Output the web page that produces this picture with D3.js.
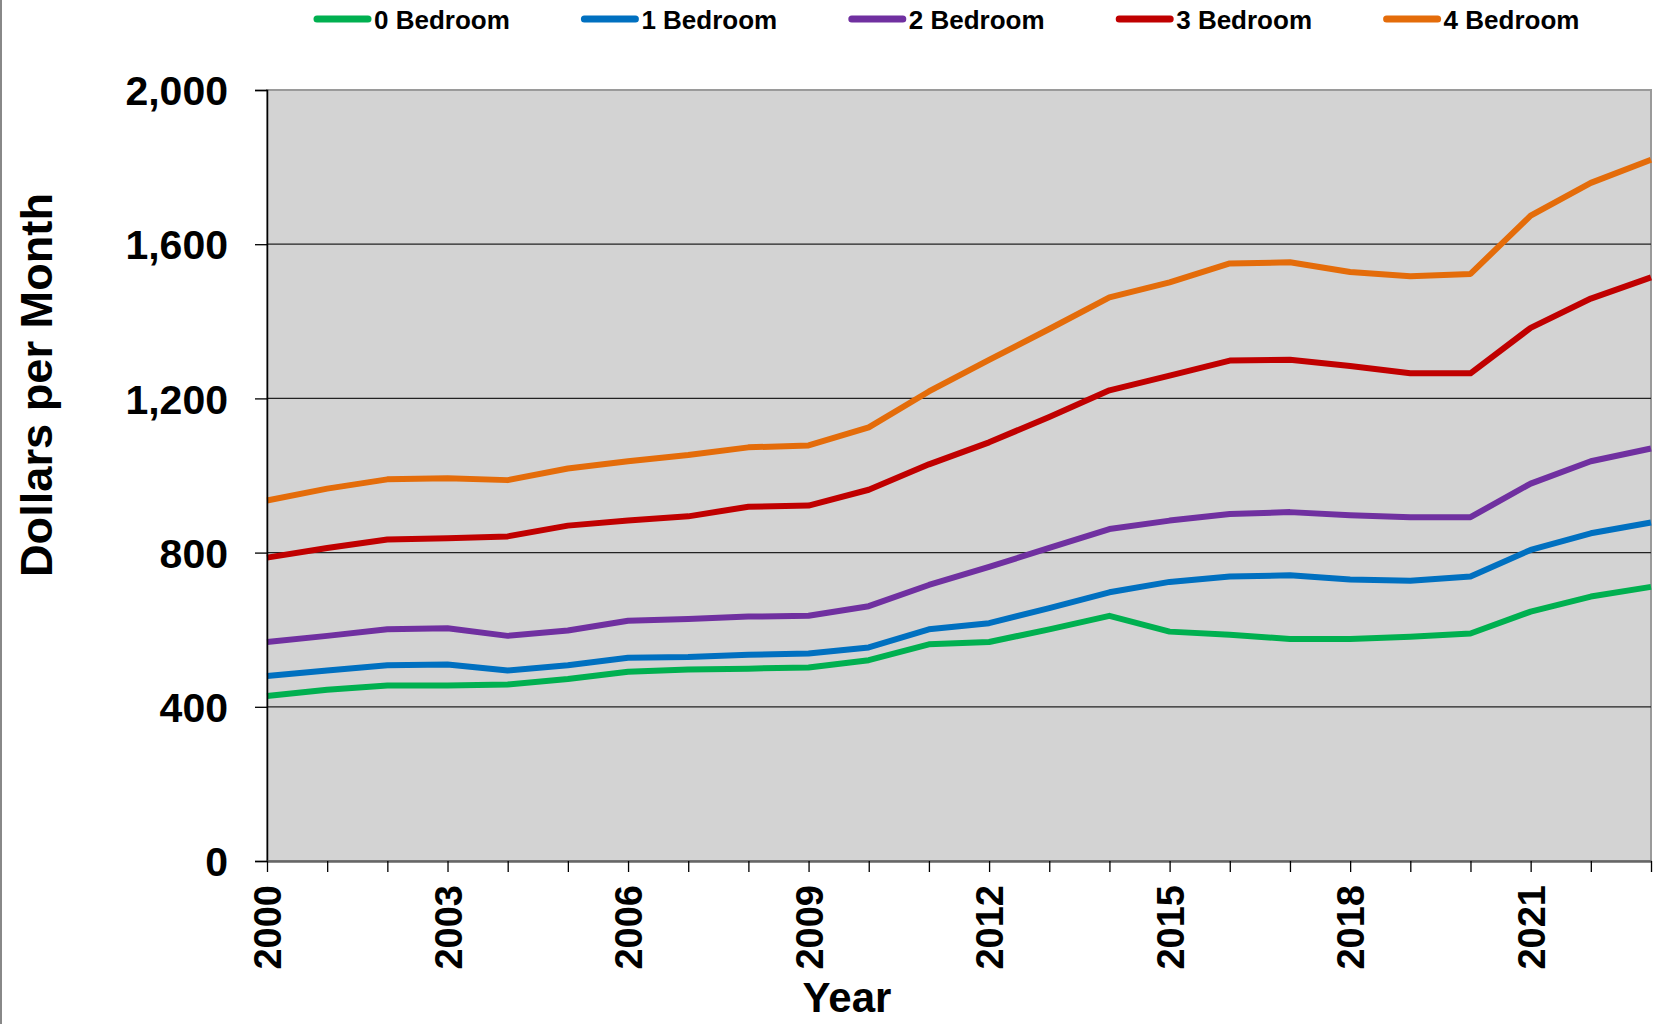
<!DOCTYPE html>
<html>
<head>
<meta charset="utf-8">
<script src="https://cdn.jsdelivr.net/npm/d3@7"></script>
<style>
  html, body { margin: 0; padding: 0; background: #fff; }
  svg { display: block; }
  text { font-family: "Liberation Sans", Arial, sans-serif; font-weight: bold; fill: #000; }
</style>
</head>
<body>
<svg id="chart" width="1657" height="1024"></svg>
<script>
// Fair market rent by unit size, dollars per month
const years = d3.range(2000, 2024);
const seriesNames = ["0 Bedroom", "1 Bedroom", "2 Bedroom", "3 Bedroom", "4 Bedroom"];
const seriesColors = ["#00b050", "#0070c0", "#7030a0", "#c00000", "#e46c0a"];

const bed0 = [428, 444, 455, 455, 458, 472, 491, 497, 499, 502, 521, 562, 568, 601, 636, 595, 587, 576, 576, 582, 590, 647, 686, 711];
const bed1 = [480, 494, 508, 510, 494, 508, 527, 529, 535, 538, 554, 601, 617, 656, 697, 724, 738, 741, 730, 727, 738, 807, 850, 878];
const bed2 = [568, 584, 601, 604, 584, 598, 623, 628, 634, 636, 661, 716, 763, 812, 861, 883, 900, 905, 897, 892, 892, 979, 1037, 1070];
const bed3 = [787, 812, 834, 837, 842, 870, 883, 894, 919, 922, 963, 1029, 1086, 1152, 1221, 1259, 1298, 1300, 1284, 1265, 1265, 1383, 1459, 1514];
const bed4 = [935, 966, 990, 993, 988, 1018, 1037, 1053, 1073, 1078, 1125, 1218, 1300, 1380, 1462, 1501, 1550, 1553, 1528, 1517, 1523, 1674, 1759, 1819];

const seriesValues = [bed0, bed1, bed2, bed3, bed4];
const yTicks = [0, 400, 800, 1200, 1600, 2000];
const xLabelYears = [2000, 2003, 2006, 2009, 2012, 2015, 2018, 2021];

const svg = d3.select("#chart");

// page frame line on the left edge
svg.append("line").attr("x1", 1).attr("x2", 1).attr("y1", 0).attr("y2", 1024)
  .attr("stroke", "#888").attr("stroke-width", 2);

const plot = { left: 267, right: 1651, top: 90, bottom: 861 };

const x = d3.scaleLinear().domain([2000, 2023]).range([plot.left, plot.right]);
const y = d3.scaleLinear().domain([0, 2000]).range([plot.bottom, plot.top]);

// plot background with grey border
svg.append("rect")
  .attr("x", plot.left).attr("y", plot.top)
  .attr("width", plot.right - plot.left).attr("height", plot.bottom - plot.top)
  .attr("fill", "#d3d3d3").attr("stroke", "#9a9a9a").attr("stroke-width", 2);

// horizontal gridlines
svg.append("g").selectAll("line")
  .data(yTicks.filter(v => v > 0 && v < 2000))
  .join("line")
  .attr("x1", plot.left).attr("x2", plot.right)
  .attr("y1", d => y(d)).attr("y2", d => y(d))
  .attr("stroke", "#222").attr("stroke-width", 1.3);

// series lines
const line = d3.line().x((d, i) => x(years[i])).y(d => y(d));
svg.append("g").selectAll("path")
  .data(seriesValues)
  .join("path")
  .attr("d", d => line(d))
  .attr("fill", "none")
  .attr("stroke", (d, i) => seriesColors[i])
  .attr("stroke-width", 6)
  .attr("stroke-linejoin", "round");

// y axis
const yAxis = svg.append("g")
  .attr("transform", `translate(${plot.left},0)`)
  .call(d3.axisLeft(y).tickValues(yTicks).tickSize(12).tickPadding(27).tickFormat(d3.format(",")));
yAxis.select(".domain").attr("stroke", "#000").attr("stroke-width", 1.5);
yAxis.selectAll(".tick line").attr("stroke", "#000").attr("stroke-width", 1.3);
yAxis.selectAll(".tick text")
  .style("font-size", "41px").style("font-family", "'Liberation Sans', Arial, sans-serif")
  .style("font-weight", "bold").attr("fill", "#000").attr("dy", "0.36em");

// x axis
const xAxis = svg.append("g")
  .attr("transform", `translate(0,${plot.bottom})`)
  .call(d3.axisBottom(x).tickValues(years).tickSize(11).tickSizeOuter(0)
    .tickFormat(d => xLabelYears.includes(d) ? String(d) : ""));
xAxis.select(".domain").attr("stroke", "#666").attr("stroke-width", 2.5);
xAxis.selectAll(".tick line").attr("stroke", "#000").attr("stroke-width", 1.3);
xAxis.selectAll(".tick text")
  .style("font-size", "38px").style("font-family", "'Liberation Sans', Arial, sans-serif")
  .style("font-weight", "bold").attr("fill", "#000")
  .attr("text-anchor", "end")
  .attr("transform", "rotate(-90)")
  .attr("x", -24).attr("y", 0).attr("dy", "0.36em");

// axis titles
svg.append("text")
  .attr("transform", `translate(52,385) rotate(-90)`)
  .attr("text-anchor", "middle")
  .style("font-size", "44px")
  .attr("textLength", 384).attr("lengthAdjust", "spacingAndGlyphs")
  .text("Dollars per Month");

svg.append("text")
  .attr("x", 847).attr("y", 1012)
  .attr("text-anchor", "middle")
  .style("font-size", "42px")
  .text("Year");

// legend
const legend = svg.append("g").selectAll("g")
  .data(seriesNames)
  .join("g")
  .attr("transform", (d, i) => `translate(${314 + i * 267.4},19)`);
legend.append("line")
  .attr("x1", 3).attr("x2", 54).attr("y1", 0).attr("y2", 0)
  .attr("stroke", (d, i) => seriesColors[i])
  .attr("stroke-width", 7).attr("stroke-linecap", "round");
legend.append("text")
  .attr("x", 60).attr("y", 10)
  .style("font-size", "26px")
  .text(d => d);
</script>
</body>
</html>
